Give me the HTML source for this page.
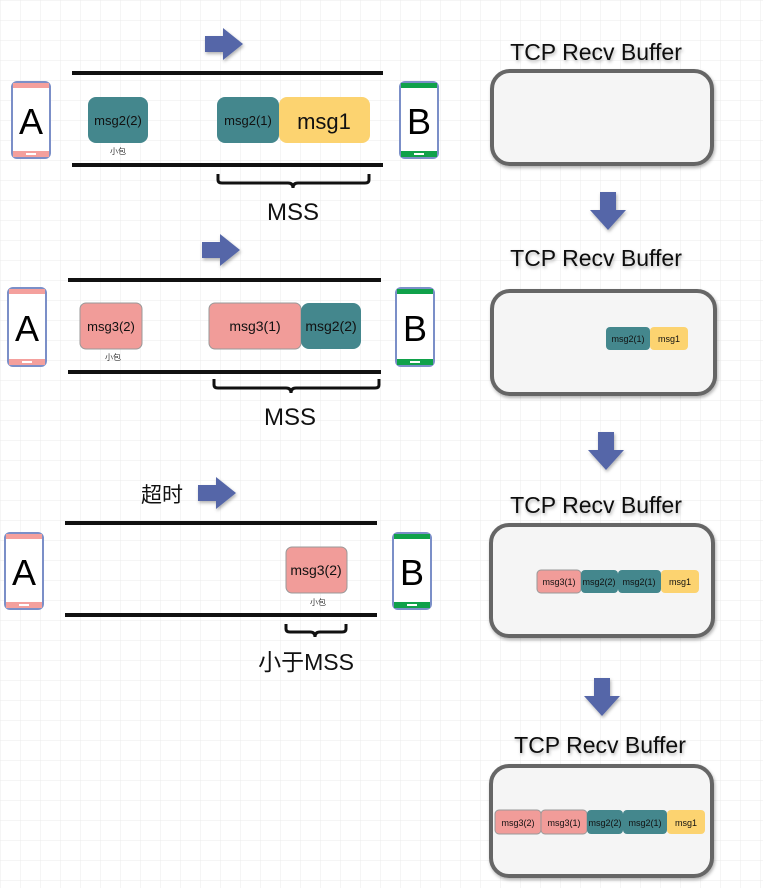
<!DOCTYPE html>
<html><head><meta charset="utf-8"><style>
html,body{margin:0;padding:0;width:763px;height:888px;overflow:hidden;background:#fff}
svg{display:block}
text{font-family:"Liberation Sans","Noto Sans CJK SC",sans-serif}
</style></head><body>
<svg width="763" height="888" viewBox="0 0 763 888" xmlns="http://www.w3.org/2000/svg">
<defs>
<pattern id="g" width="20" height="20" patternUnits="userSpaceOnUse">
<path d="M20 0H0V20" fill="none" stroke="#ebebeb" stroke-width="1"/>
</pattern>
<filter id="sh" x="-20%" y="-20%" width="140%" height="140%"><feDropShadow dx="1" dy="2" stdDeviation="1.5" flood-color="#000" flood-opacity="0.3"/></filter>
<g id="ar"><path d="M0 8H18V0L38 16L18 32V24H0Z" fill="#5466a8" filter="url(#sh)"/></g>
<g id="da"><path d="M8 0H24V18H34L16 38L-2 18H8Z" fill="#5466a8" filter="url(#sh)"/></g>
</defs>
<rect width="763" height="888" fill="url(#g)"/>

<!-- Section 1 -->
<use href="#ar" x="205" y="28"/>
<rect x="72" y="71" width="311" height="4" fill="#111"/>
<rect x="72" y="163" width="311" height="4" fill="#111"/>
<g>
<rect x="12" y="82" width="38" height="76" rx="5" fill="#fff" stroke="#7b8fc8" stroke-width="2"/>
<rect x="13" y="83" width="36" height="5" fill="#f4a09d"/><rect x="13" y="151" width="36" height="6" fill="#f4a09d"/>
<rect x="26" y="153" width="10" height="2" fill="#fff"/>
<text x="31" y="134" font-size="36" text-anchor="middle">A</text>
<rect x="400" y="82" width="38" height="76" rx="5" fill="#fff" stroke="#7b8fc8" stroke-width="2"/>
<rect x="401" y="83" width="36" height="5" fill="#10a14a"/><rect x="401" y="151" width="36" height="6" fill="#10a14a"/>
<rect x="414" y="153" width="10" height="2" fill="#fff"/>
<text x="419" y="134" font-size="36" text-anchor="middle">B</text>
</g>
<rect x="88" y="97" width="60" height="46" rx="8" fill="#44878d"/>
<text x="118" y="125" font-size="13" text-anchor="middle" fill="#111">msg2(2)</text>
<text x="118" y="154" font-size="8" text-anchor="middle" fill="#333">小包</text>
<rect x="217" y="97" width="62" height="46" rx="8" fill="#44878d"/>
<rect x="279" y="97" width="91" height="46" rx="8" fill="#fcd370"/>
<text x="248" y="125" font-size="13" text-anchor="middle" fill="#111">msg2(1)</text>
<text x="324" y="129" font-size="22" text-anchor="middle" fill="#111">msg1</text>
<path d="M218 174V180Q218 183 222 183H288Q293 183 293 188Q293 183 298 183H365Q369 183 369 180V174" fill="none" stroke="#111" stroke-width="3"/>
<text x="293" y="220" font-size="24" text-anchor="middle" fill="#111">MSS</text>

<!-- Buffer 1 -->
<text x="596" y="60" font-size="23" text-anchor="middle" fill="#111" filter="url(#sh)">TCP Recv Buffer</text>
<rect x="492" y="71" width="220" height="93" rx="18" fill="#f5f5f5" stroke="#666" stroke-width="4" filter="url(#sh)"/>
<use href="#da" x="592" y="192"/>

<!-- Section 2 -->
<use href="#ar" x="202" y="234"/>
<rect x="68" y="278" width="313" height="4" fill="#111"/>
<rect x="68" y="370" width="313" height="4" fill="#111"/>
<rect x="8" y="288" width="38" height="78" rx="5" fill="#fff" stroke="#7b8fc8" stroke-width="2"/>
<rect x="9" y="289" width="36" height="5" fill="#f4a09d"/><rect x="9" y="359" width="36" height="6" fill="#f4a09d"/>
<rect x="22" y="361" width="10" height="2" fill="#fff"/>
<text x="27" y="341" font-size="36" text-anchor="middle">A</text>
<rect x="396" y="288" width="38" height="78" rx="5" fill="#fff" stroke="#7b8fc8" stroke-width="2"/>
<rect x="397" y="289" width="36" height="5" fill="#10a14a"/><rect x="397" y="359" width="36" height="6" fill="#10a14a"/>
<rect x="410" y="361" width="10" height="2" fill="#fff"/>
<text x="415" y="341" font-size="36" text-anchor="middle">B</text>
<rect x="80" y="303" width="62" height="46" rx="6" fill="#f19c99" stroke="#999" stroke-width="1"/>
<text x="111" y="331" font-size="13" text-anchor="middle" fill="#111">msg3(2)</text>
<text x="113" y="360" font-size="8" text-anchor="middle" fill="#333">小包</text>
<rect x="209" y="303" width="92" height="46" rx="6" fill="#f19c99" stroke="#999" stroke-width="1"/>
<rect x="301" y="303" width="60" height="46" rx="8" fill="#44878d"/>
<text x="255" y="331" font-size="14" text-anchor="middle" fill="#111">msg3(1)</text>
<text x="331" y="331" font-size="14" text-anchor="middle" fill="#111">msg2(2)</text>
<path d="M214 379V385Q214 388 218 388H286Q291 388 291 393Q291 388 296 388H375Q379 388 379 385V379" fill="none" stroke="#111" stroke-width="3"/>
<text x="290" y="425" font-size="24" text-anchor="middle" fill="#111">MSS</text>

<!-- Buffer 2 -->
<text x="596" y="266" font-size="23" text-anchor="middle" fill="#111" filter="url(#sh)">TCP Recv Buffer</text>
<rect x="492" y="291" width="223" height="103" rx="18" fill="#f5f5f5" stroke="#666" stroke-width="4" filter="url(#sh)"/>
<rect x="606" y="327" width="44" height="23" rx="4" fill="#44878d"/>
<rect x="650" y="327" width="38" height="23" rx="4" fill="#fcd370"/>
<text x="628" y="342" font-size="9" text-anchor="middle" fill="#111">msg2(1)</text>
<text x="669" y="342" font-size="9" text-anchor="middle" fill="#111">msg1</text>
<use href="#da" x="590" y="432"/>

<!-- Section 3 -->
<text x="162" y="502" font-size="21" text-anchor="middle" fill="#111">超时</text>
<use href="#ar" x="198" y="477"/>
<rect x="65" y="521" width="312" height="4" fill="#111"/>
<rect x="65" y="613" width="312" height="4" fill="#111"/>
<rect x="5" y="533" width="38" height="76" rx="5" fill="#fff" stroke="#7b8fc8" stroke-width="2"/>
<rect x="6" y="534" width="36" height="5" fill="#f4a09d"/><rect x="6" y="602" width="36" height="6" fill="#f4a09d"/>
<rect x="19" y="604" width="10" height="2" fill="#fff"/>
<text x="24" y="585" font-size="36" text-anchor="middle">A</text>
<rect x="393" y="533" width="38" height="76" rx="5" fill="#fff" stroke="#7b8fc8" stroke-width="2"/>
<rect x="394" y="534" width="36" height="5" fill="#10a14a"/><rect x="394" y="602" width="36" height="6" fill="#10a14a"/>
<rect x="407" y="604" width="10" height="2" fill="#fff"/>
<text x="412" y="585" font-size="36" text-anchor="middle">B</text>
<rect x="286" y="547" width="61" height="46" rx="6" fill="#f19c99" stroke="#999" stroke-width="1"/>
<text x="316" y="575" font-size="14" text-anchor="middle" fill="#111">msg3(2)</text>
<text x="318" y="605" font-size="8" text-anchor="middle" fill="#333">小包</text>
<path d="M286 624V629Q286 632 290 632H310Q315 632 315 637Q315 632 320 632H342Q346 632 346 629V624" fill="none" stroke="#111" stroke-width="3"/>
<text x="306" y="670" font-size="23" text-anchor="middle" fill="#111">小于MSS</text>

<!-- Buffer 3 -->
<text x="596" y="513" font-size="23" text-anchor="middle" fill="#111" filter="url(#sh)">TCP Recv Buffer</text>
<rect x="491" y="525" width="222" height="111" rx="18" fill="#f5f5f5" stroke="#666" stroke-width="4" filter="url(#sh)"/>
<rect x="537" y="570" width="44" height="23" rx="4" fill="#f19c99" stroke="#999" stroke-width="1"/>
<rect x="581" y="570" width="37" height="23" rx="4" fill="#44878d"/>
<rect x="618" y="570" width="43" height="23" rx="4" fill="#44878d"/>
<rect x="661" y="570" width="38" height="23" rx="4" fill="#fcd370"/>
<text x="559" y="585" font-size="9" text-anchor="middle" fill="#111">msg3(1)</text>
<text x="599" y="585" font-size="9" text-anchor="middle" fill="#111">msg2(2)</text>
<text x="639" y="585" font-size="9" text-anchor="middle" fill="#111">msg2(1)</text>
<text x="680" y="585" font-size="9" text-anchor="middle" fill="#111">msg1</text>
<use href="#da" x="586" y="678"/>

<!-- Buffer 4 -->
<text x="600" y="753" font-size="23" text-anchor="middle" fill="#111" filter="url(#sh)">TCP Recv Buffer</text>
<rect x="491" y="766" width="221" height="110" rx="18" fill="#f5f5f5" stroke="#666" stroke-width="4" filter="url(#sh)"/>
<rect x="495" y="810" width="46" height="24" rx="4" fill="#f19c99" stroke="#999" stroke-width="1"/>
<rect x="541" y="810" width="46" height="24" rx="4" fill="#f19c99" stroke="#999" stroke-width="1"/>
<rect x="587" y="810" width="36" height="24" rx="4" fill="#44878d"/>
<rect x="623" y="810" width="44" height="24" rx="4" fill="#44878d"/>
<rect x="667" y="810" width="38" height="24" rx="4" fill="#fcd370"/>
<text x="518" y="826" font-size="9" text-anchor="middle" fill="#111">msg3(2)</text>
<text x="564" y="826" font-size="9" text-anchor="middle" fill="#111">msg3(1)</text>
<text x="605" y="826" font-size="9" text-anchor="middle" fill="#111">msg2(2)</text>
<text x="645" y="826" font-size="9" text-anchor="middle" fill="#111">msg2(1)</text>
<text x="686" y="826" font-size="9" text-anchor="middle" fill="#111">msg1</text>
</svg>
</body></html>
